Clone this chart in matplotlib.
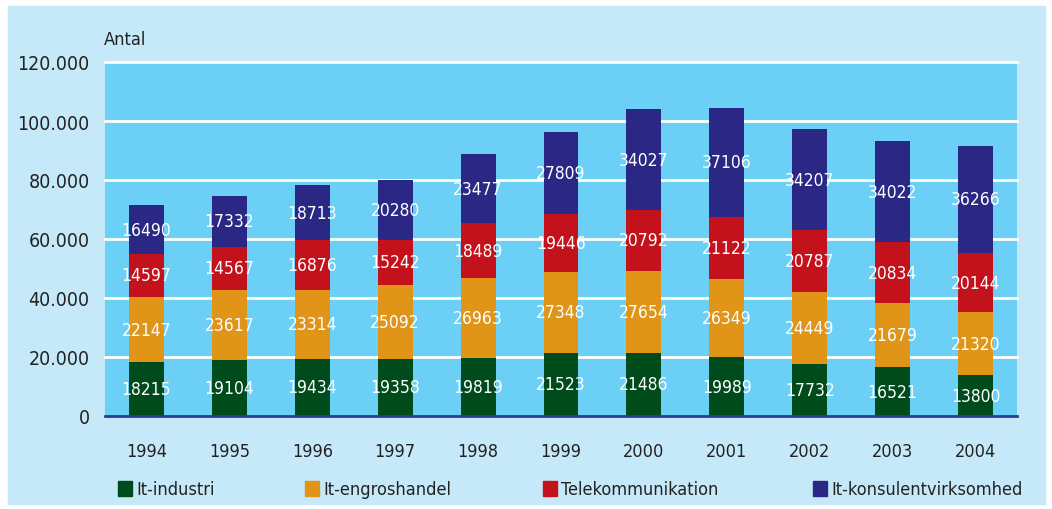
import matplotlib.pyplot as plt
from matplotlib.patches import Rectangle
import numpy as np

# data
years = ['1994', '1995', '1996', '1997', '1998', '1999', '2000', '2001', '2002', '2003', '2004']
industri = [18215, 19104, 19434, 19358, 19819, 21523, 21486, 19989, 17732, 16521, 13800]
engros = [22147, 23617, 23314, 25092, 26963, 27348, 27654, 26349, 24449, 21679, 21320]
telekom = [14597, 14567, 16876, 15242, 18489, 19446, 20792, 21122, 20787, 20834, 20144]
konsulent = [16490, 17332, 18713, 20280, 23477, 27809, 34027, 37106, 34207, 34022, 36266]
series_names = ['It-industri', 'It-engroshandel', 'Telekommunikation', 'It-konsulentvirksomhed']
yticks = [0, 20000, 40000, 60000, 80000, 100000, 120000]
ytick_labels = ['0', '20.000', '40.000', '60.000', '80.000', '100.000', '120.000']

colors = ['#004b1c', '#e09418', '#c4121c', '#2b2885']
plt.rcParams['font.family'] = 'DejaVu Sans'
plt.rcParams['font.stretch'] = 'condensed'

fig = plt.figure(figsize=(10.52, 5.10), dpi=100)
fig.patch.set_facecolor('white')
fig.patches.append(Rectangle((8 / 1052, 5 / 510), 1037 / 1052, 498 / 510,
                             transform=fig.transFigure, color='#c6e9f9', zorder=-10))

ax = fig.add_axes([105 / 1052, 1 - 417 / 510, 912 / 1052, 354 / 510])
ax.set_facecolor('#6ccff5')

x = np.arange(len(years))
bottom = np.zeros(len(years))
for vals, c in zip([industri, engros, telekom, konsulent], colors):
    vals = np.array(vals)
    ax.bar(x, vals, width=0.42, bottom=bottom, color=c, zorder=3)
    for xi, b, v in zip(x, bottom, vals):
        ax.text(xi, b + v / 2, str(v), ha='center', va='center', color='white',
                fontsize=12.5, zorder=4)
    bottom = bottom + vals

for t in yticks[1:]:
    ax.axhline(t, color='white', lw=2, zorder=1, clip_on=False)

ax.set_xlim(-0.5, 10.5)
ax.set_ylim(0, 120000)
ax.set_yticks(yticks)
ax.set_yticklabels(ytick_labels, fontsize=14, color='#222222')
ax.set_xticks(x)
ax.set_xticklabels(years, fontsize=13, color='#222222')
ax.tick_params(length=0)
ax.tick_params(axis='y', pad=11)
ax.tick_params(axis='x', pad=19)
for s in ['top', 'left', 'right']:
    ax.spines[s].set_visible(False)
ax.spines['bottom'].set_color('#2e3a92')
ax.spines['bottom'].set_linewidth(2)
ax.spines['bottom'].set_zorder(5)

fig.text(104 / 1052, 1 - 40 / 510, 'Antal', fontsize=13, color='#222222',
         ha='left', va='center')

# legend
leg_x = [118, 305, 543, 813]
for lx, name, c in zip(leg_x, series_names, colors):
    fig.patches.append(Rectangle((lx / 1052, 1 - 497 / 510), 14 / 1052, 15 / 510,
                                 transform=fig.transFigure, color=c))
    fig.text((lx + 18) / 1052, 1 - 490 / 510, name, fontsize=13,
             color='#222222', ha='left', va='center')

fig.savefig('out.png', dpi=100, facecolor=fig.get_facecolor())
